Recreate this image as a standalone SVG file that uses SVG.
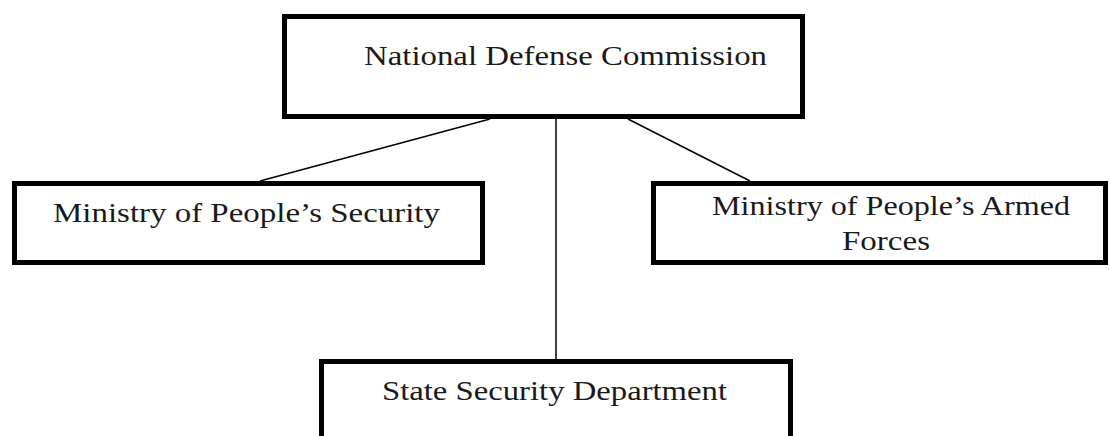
<svg xmlns="http://www.w3.org/2000/svg" width="1109" height="436" viewBox="0 0 1109 436">
<style>
.box{fill:#fff;stroke:#000;stroke-width:5}
.lbl{font-family:"Liberation Serif","Times New Roman",serif;font-size:27px;fill:#1a1a1a}
.conn{stroke:#000;stroke-width:1.5;fill:none}
</style>
<rect width="1109" height="436" fill="#fff"/>
<g id="connectors">
<line class="conn" x1="490" y1="119" x2="260" y2="181"/>
<line class="conn" x1="556" y1="119" x2="556" y2="359"/>
<line class="conn" x1="628" y1="119" x2="750" y2="181"/>
</g>
<g id="node-ndc">
<rect class="box" x="284.5" y="16.5" width="518" height="100"/>
<text class="lbl" x="364" y="65" textLength="403" lengthAdjust="spacingAndGlyphs">National Defense Commission</text>
</g>
<g id="node-mps">
<rect class="box" x="14.5" y="183.5" width="468" height="79"/>
<text class="lbl" x="53" y="222" textLength="387" lengthAdjust="spacingAndGlyphs">Ministry of People’s Security</text>
</g>
<g id="node-mpaf">
<rect class="box" x="653.5" y="183.5" width="452" height="79"/>
<text class="lbl" x="712" y="215" textLength="358" lengthAdjust="spacingAndGlyphs">Ministry of People’s Armed</text>
<text class="lbl" x="842" y="250" textLength="88" lengthAdjust="spacingAndGlyphs">Forces</text>
</g>
<g id="node-ssd">
<rect class="box" x="321.5" y="361.5" width="469" height="100"/>
<text class="lbl" x="382" y="400" textLength="345" lengthAdjust="spacingAndGlyphs">State Security Department</text>
</g>
</svg>
